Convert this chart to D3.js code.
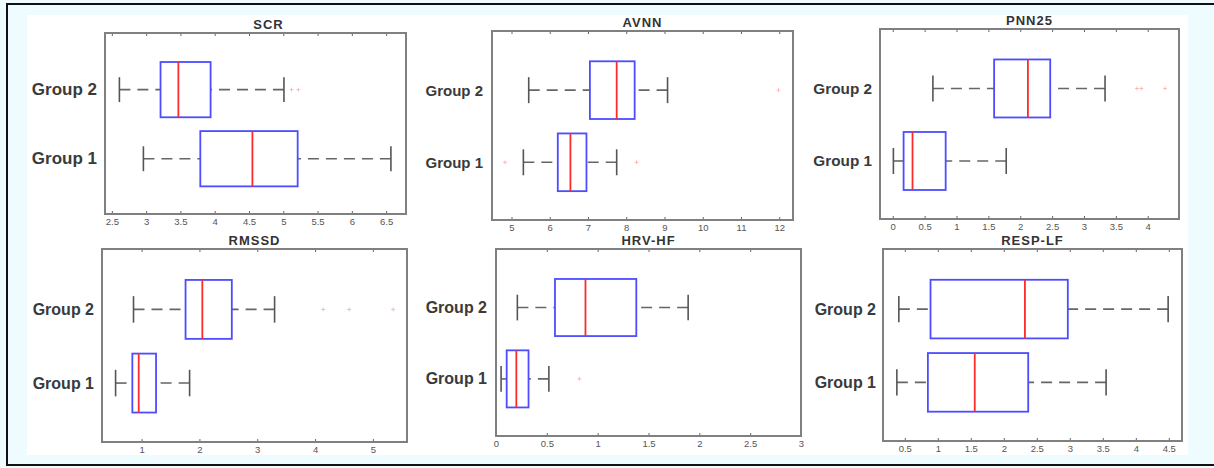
<!DOCTYPE html>
<html>
<head>
<meta charset="utf-8">
<script src="https://cdn.jsdelivr.net/npm/d3@7"></script>
<style>
  body { margin: 0; background: #fff; }
  text { font-family: "Liberation Sans", Arial, sans-serif; }
</style>
</head>
<body>
<svg id="chart"></svg>
<script>
// panel titles and group names
const panelNames = ["SCR", "AVNN", "PNN25", "RMSSD", "HRV-HF", "RESP-LF"];
const groupNames = ["Group 1", "Group 2"];

// box stats per panel: [lower whisker, q1, median, q3, upper whisker]
const group1Stats = [
  [2.96, 3.79, 4.55, 5.21, 6.57],
  [5.31, 6.21, 6.54, 6.96, 7.75],
  [0.01, 0.17, 0.31, 0.83, 1.78],
  [0.55, 0.84, 0.95, 1.25, 1.83],
  [0.05, 0.105, 0.20, 0.32, 0.52],
  [0.38, 0.85, 1.56, 2.37, 3.55]
];
const group2Stats = [
  [2.61, 3.21, 3.47, 3.94, 5.01],
  [5.45, 7.05, 7.75, 8.22, 9.08],
  [0.63, 1.59, 2.12, 2.47, 3.33],
  [0.86, 1.76, 2.05, 2.56, 3.30],
  [0.21, 0.58, 0.88, 1.38, 1.89],
  [0.41, 0.89, 2.32, 2.97, 4.49]
];
const group1Outliers = [[], [4.83, 8.27], [], [], [0.82], []];
const group2Outliers = [[5.12, 5.22], [11.98], [3.83, 3.9, 4.27], [4.14, 4.59, 5.35], [], []];

// x axis limits and tick labels per panel
const xLimits = [[2.4, 6.79], [4.49, 12.36], [-0.2, 4.49], [0.315, 5.59], [0, 3], [0.17, 4.7]];
const xTicks = [
  [2.5, 3, 3.5, 4, 4.5, 5, 5.5, 6, 6.5],
  [5, 6, 7, 8, 9, 10, 11, 12],
  [0, 0.5, 1, 1.5, 2, 2.5, 3, 3.5, 4],
  [1, 2, 3, 4, 5],
  [0, 0.5, 1, 1.5, 2, 2.5, 3],
  [0.5, 1, 1.5, 2, 2.5, 3, 3.5, 4, 4.5]
];

let w = 1214;
let h = 468;

// where each axes box sits on the page
let layout = [
  {x0: 105, x1: 406, y0: 33, y1: 214, lab: 17, gap: 8, tdx: 13},
  {x0: 492, x1: 793, y0: 31, y1: 220, lab: 15, gap: 9, tdx: 0},
  {x0: 880, x1: 1179, y0: 29, y1: 219, lab: 15.3, gap: 8, tdx: 0},
  {x0: 102, x1: 407, y0: 249, y1: 442, lab: 16, gap: 8, tdx: 0},
  {x0: 496, x1: 801, y0: 249, y1: 436, lab: 16, gap: 9, tdx: 0},
  {x0: 883, x1: 1182, y0: 249, y1: 441, lab: 16, gap: 7, tdx: 0}
];

let svg = d3.select('#chart')
  .attr('width', w)
  .attr('height', h);

// background, white area and black frame
svg.append('rect').attr('width', w).attr('height', h).attr('fill', '#effcff');
svg.append('rect')
  .attr('x', 27).attr('y', 15)
  .attr('width', 1161).attr('height', 440)
  .attr('fill', '#fff');
svg.append('line').attr('x1', 6).attr('x2', w).attr('y1', 4).attr('y2', 4)
  .attr('stroke', '#111').attr('stroke-width', 2);
svg.append('line').attr('x1', 7).attr('x2', 7).attr('y1', 3).attr('y2', 466)
  .attr('stroke', '#111').attr('stroke-width', 2);
svg.append('line').attr('x1', 6).attr('x2', w).attr('y1', 465).attr('y2', 465)
  .attr('stroke', '#111').attr('stroke-width', 2);

let boxHalf = 0.4;
let capHalf = 0.18;

layout.forEach(function (p, i) {
  let g = svg.append('g');

  let xScale = d3.scaleLinear().domain(xLimits[i]).range([p.x0, p.x1]);
  let yScale = d3.scaleLinear().domain([0.2, 2.82]).range([p.y1, p.y0]);

  // axes: inward ticks top and bottom
  let bottom = g.append('g')
    .attr('transform', `translate(0, ${p.y1})`)
    .call(d3.axisBottom(xScale).tickValues(xTicks[i]).tickSizeInner(-3).tickSizeOuter(0)
      .tickPadding(4).tickFormat(d => String(d)));
  bottom.select('.domain').remove();
  bottom.selectAll('line').attr('stroke', '#666');
  bottom.selectAll('text').attr('fill', '#555').style('font-size', '9.5px');

  let top = g.append('g')
    .attr('transform', `translate(0, ${p.y0})`)
    .call(d3.axisTop(xScale).tickValues(xTicks[i]).tickSizeInner(-3).tickSizeOuter(0).tickFormat(''));
  top.select('.domain').remove();
  top.selectAll('line').attr('stroke', '#666');

  g.append('rect')
    .attr('x', p.x0).attr('y', p.y0)
    .attr('width', p.x1 - p.x0).attr('height', p.y1 - p.y0)
    .attr('fill', 'none')
    .attr('stroke', '#808080')
    .attr('stroke-width', 2);

  // title
  g.append('text')
    .attr('x', (p.x0 + p.x1) / 2 + p.tdx)
    .attr('y', p.y0 - 9)
    .attr('text-anchor', 'middle')
    .attr('dominant-baseline', 'central')
    .style('font-size', '13px')
    .style('font-weight', 'bold')
    .style('letter-spacing', '1px')
    .attr('fill', '#333')
    .text(panelNames[i]);

  let rows = [
    {name: groupNames[0], pos: 1, s: group1Stats[i], out: group1Outliers[i]},
    {name: groupNames[1], pos: 2, s: group2Stats[i], out: group2Outliers[i]}
  ];

  rows.forEach(function (r) {
    let yc = yScale(r.pos);

    g.append('text')
      .attr('x', p.x0 - p.gap)
      .attr('y', yc)
      .attr('text-anchor', 'end')
      .attr('dominant-baseline', 'central')
      .style('font-size', p.lab + 'px')
      .style('font-weight', 'bold')
      .attr('fill', '#3a3a3a')
      .text(r.name);

    // whiskers
    [[r.s[0], r.s[1]], [r.s[4], r.s[3]]].forEach(function (seg) {
      g.append('line')
        .attr('x1', xScale(seg[0])).attr('x2', xScale(seg[1]))
        .attr('y1', yc).attr('y2', yc)
        .attr('stroke', '#666')
        .attr('stroke-width', 1.6)
        .attr('stroke-dasharray', '11,7');
      g.append('line')
        .attr('x1', xScale(seg[0])).attr('x2', xScale(seg[0]))
        .attr('y1', yScale(r.pos + capHalf)).attr('y2', yScale(r.pos - capHalf))
        .attr('stroke', '#555')
        .attr('stroke-width', 1.6);
    });

    // box
    g.append('rect')
      .attr('x', xScale(r.s[1]))
      .attr('y', yScale(r.pos + boxHalf))
      .attr('width', xScale(r.s[3]) - xScale(r.s[1]))
      .attr('height', yScale(r.pos - boxHalf) - yScale(r.pos + boxHalf))
      .attr('fill', 'none')
      .attr('stroke', '#4d4dff')
      .attr('stroke-width', 1.8);

    // median
    g.append('line')
      .attr('x1', xScale(r.s[2])).attr('x2', xScale(r.s[2]))
      .attr('y1', yScale(r.pos + boxHalf)).attr('y2', yScale(r.pos - boxHalf))
      .attr('stroke', '#ff2b2b')
      .attr('stroke-width', 1.8);

    // outliers, faint red plus marks
    r.out.forEach(function (v) {
      let cx = xScale(v);
      g.append('path')
        .attr('d', `M${cx - 2},${yc}H${cx + 2}M${cx},${yc - 2}V${yc + 2}`)
        .attr('stroke', '#ff6666')
        .attr('stroke-opacity', 0.4)
        .attr('stroke-width', 1);
    });
  });
});
</script>
</body>
</html>
